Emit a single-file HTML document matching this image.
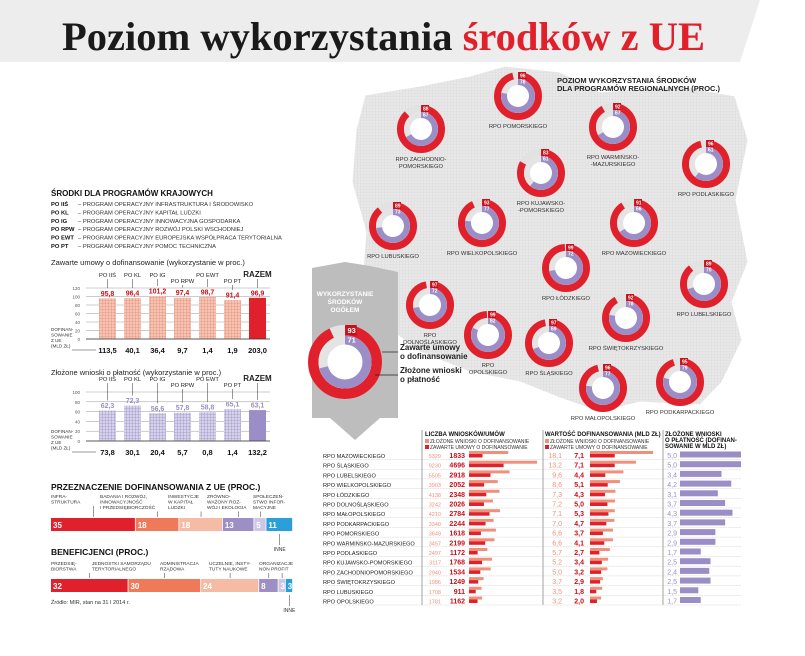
<!DOCTYPE html>
<html><head><meta charset="utf-8"><style>
html,body{margin:0;padding:0;background:#fff;}
svg{display:block;font-family:"Liberation Sans",sans-serif;}
</style></head><body>
<svg id="s" width="805" height="656" viewBox="0 0 805 656" xmlns="http://www.w3.org/2000/svg">
<defs>
<pattern id="pinkGrid" width="3" height="3" patternUnits="userSpaceOnUse"><rect width="3" height="3" fill="#f4c4b4"/><path d="M0 0H3M0 0V3" stroke="#e88a74" stroke-width="0.8"/></pattern>
<pattern id="blueGrid" width="3" height="3" patternUnits="userSpaceOnUse"><rect width="3" height="3" fill="#d6d2ea"/><path d="M0 0H3M0 0V3" stroke="#9d93c8" stroke-width="0.8"/></pattern>
<pattern id="mapGrid" width="3" height="3" patternUnits="userSpaceOnUse"><rect width="3" height="3" fill="#e8e8e8"/><path d="M0 0H3M0 0V3" stroke="#d6d6d6" stroke-width="0.6"/></pattern>
</defs>
<polygon points="0,0 760,0 740,62 0,62" fill="#ededed"/>
<text x="62" y="50" font-family="Liberation Serif,serif" font-weight="bold" font-size="40" textLength="643" lengthAdjust="spacingAndGlyphs"><tspan fill="#1a1a1a">Poziom wykorzystania </tspan><tspan fill="#e0202a">środków z UE</tspan></text>
<polygon points="365,95 420,86 470,76 505,66 560,72 600,92 680,86 735,96 748,140 736,200 748,262 732,302 742,340 722,382 700,405 640,402 600,412 560,398 520,382 470,372 420,352 380,322 362,282 366,232 352,182 356,130" fill="url(#mapGrid)" stroke="#fff" stroke-width="1"/>
<text x="557" y="83" font-size="7.5" font-weight="bold" fill="#222">POZIOM WYKORZYSTANIA ŚRODKÓW</text>
<text x="557" y="91" font-size="7.5" font-weight="bold" fill="#222">DLA PROGRAMÓW REGIONALNYCH (PROC.)</text>
<polygon points="312,268 345,262 370,266 398,272 398,418 380,418 355,440 330,418 312,418" fill="#bdbdbd"/>
<text x="345" y="296" font-size="6.5" font-weight="bold" fill="#fff" text-anchor="middle">WYKORZYSTANIE</text>
<text x="345" y="304" font-size="6.5" font-weight="bold" fill="#fff" text-anchor="middle">ŚRODKÓW</text>
<text x="345" y="312" font-size="6.5" font-weight="bold" fill="#fff" text-anchor="middle">OGÓŁEM</text>
<g id="donuts"></g>
<line x1="382" y1="352" x2="398" y2="352" stroke="#222" stroke-width="0.7"/>
<line x1="375" y1="375" x2="398" y2="375" stroke="#222" stroke-width="0.7"/>
<text x="400" y="350" font-size="8" font-weight="bold" fill="#222">Zawarte umowy</text>
<text x="400" y="359" font-size="8" font-weight="bold" fill="#222">o dofinansowanie</text>
<text x="400" y="373" font-size="8" font-weight="bold" fill="#222">Złożone wnioski</text>
<text x="400" y="382" font-size="8" font-weight="bold" fill="#222">o płatność</text>
<text x="51" y="196" font-size="8" font-weight="bold" fill="#111">ŚRODKI DLA PROGRAMÓW KRAJOWYCH</text>
<g id="legendList" font-size="5.8" fill="#333"></g>
<text x="51" y="265" font-size="7.5" fill="#222">Zawarte umowy o dofinansowanie (wykorzystanie w proc.)</text>
<text x="51" y="375" font-size="7.5" fill="#222">Złożone wnioski o płatność (wykorzystanie w proc.)</text>
<g id="chart1"></g><g id="chart2"></g>
<text x="51" y="490" font-size="8.5" font-weight="bold" fill="#111">PRZEZNACZENIE DOFINANSOWANIA Z UE (PROC.)</text>
<text x="51" y="555" font-size="8.5" font-weight="bold" fill="#111">BENEFICJENCI (PROC.)</text>
<g id="stack1"></g><g id="stack2"></g>
<text x="51" y="604" font-size="5.5" fill="#333">Źródło: MIR, stan na 31 I 2014 r.</text>
<g id="table"></g>
</svg>
<script>
var NS="http://www.w3.org/2000/svg";
function mk(p,tag,at,txt){var e=document.createElementNS(NS,tag);for(var k in at)e.setAttribute(k,at[k]);if(txt!==undefined)e.textContent=txt;p.appendChild(e);return e;}
var regionNames=["RPO POMORSKIEGO","RPO ZACHODNIO-|POMORSKIEGO","RPO WARMIŃSKO-|-MAZURSKIEGO","RPO PODLASKIEGO","RPO KUJAWSKO-|-POMORSKIEGO","RPO LUBUSKIEGO","RPO WIELKOPOLSKIEGO","RPO MAZOWIECKIEGO","RPO ŁÓDZKIEGO","RPO LUBELSKIEGO","RPO|DOLNOŚLĄSKIEGO","RPO|OPOLSKIEGO","RPO ŚLĄSKIEGO","RPO ŚWIĘTOKRZYSKIEGO","RPO MAŁOPOLSKIEGO","RPO PODKARPACKIEGO"];
var regionContracts=[96,88,92,96,83,89,93,91,99,89,97,99,97,92,96,95];
var regionPayments=[78,67,67,61,61,73,77,66,72,70,72,82,69,78,77,79];
var totalContracts=93, totalPayments=71;
var layoutXY=[[518,96],[421,129],[613,127],[706,164],[541,173],[393,226],[482,223],[634,223],[566,268],[704,284],[430,305],[488,335],[549,343],[626,318],[603,388],[680,382]];
function donut(g,cx,cy,R,c,p,lab,scale){
  var w1=7*scale,w2=6*scale,r1=R-w1/2,r2=R-w1-w2/2;
  var C1=2*Math.PI*r1,C2=2*Math.PI*r2;
  mk(g,"circle",{cx:cx,cy:cy,r:R-w1,fill:"#fff"});
  mk(g,"circle",{cx:cx,cy:cy,r:r1,fill:"none",stroke:"#e2e2e2","stroke-width":w1});
  var a=mk(g,"circle",{cx:cx,cy:cy,r:r1,fill:"none",stroke:"#e0202a","stroke-width":w1,"stroke-dasharray":(c/100*C1)+" "+C1,transform:"rotate(-90 "+cx+" "+cy+")"});
  
  
  mk(g,"circle",{cx:cx,cy:cy,r:r2,fill:"none",stroke:"#e4e4e4","stroke-width":w2});
  var b=mk(g,"circle",{cx:cx,cy:cy,r:r2,fill:"none",stroke:"#9b8ec7","stroke-width":w2,"stroke-dasharray":(p/100*C2)+" "+C2,transform:"rotate(-90 "+cx+" "+cy+")"});
  
  
  var fs=5*scale;
  mk(g,"rect",{x:cx+0.5,y:cy-R,width:fs*1.5,height:w1,fill:"#c8101a"});
  mk(g,"text",{x:cx+1+fs*0.75,y:cy-R+w1*0.75,"font-size":fs,fill:"#fff","text-anchor":"middle","font-weight":"bold"},c);
  mk(g,"text",{x:cx+1+fs*0.75,y:cy-R+w1+w2*0.75,"font-size":fs,fill:"#fff","text-anchor":"middle","font-weight":"bold"},p);
  if(lab){var ls=lab.split("|");for(var i=0;i<ls.length;i++)mk(g,"text",{x:cx,y:cy+R+8+i*7,"font-size":5.8,fill:"#333","text-anchor":"middle"},ls[i]);}
}
var dg=document.getElementById("donuts");
for(var i=0;i<regionNames.length;i++){
  var g=mk(dg,"g",{});
  
  
  donut(g,layoutXY[i][0],layoutXY[i][1],24,regionContracts[i],regionPayments[i],regionNames[i],1);
}
var tg=mk(dg,"g",{});


donut(tg,345,362,37,totalContracts,totalPayments,null,1.5);
var progAbbr=["PO IIŚ","PO KL","PO IG","PO RPW","PO EWT","PO PT"];
var progFull=["PROGRAM OPERACYJNY INFRASTRUKTURA I ŚRODOWISKO","PROGRAM OPERACYJNY KAPITAŁ LUDZKI","PROGRAM OPERACYJNY INNOWACYJNA GOSPODARKA","PROGRAM OPERACYJNY ROZWÓJ POLSKI WSCHODNIEJ","PROGRAM OPERACYJNY EUROPEJSKA WSPÓŁPRACA TERYTORIALNA","PROGRAM OPERACYJNY POMOC TECHNICZNA"];
var ll=document.getElementById("legendList");
for(var i=0;i<6;i++){var y=206+i*8.4;
  var t=mk(ll,"text",{x:51,y:y,"font-weight":"bold",fill:"#111"},progAbbr[i]);
  
  
  mk(ll,"text",{x:78,y:y},"– "+progFull[i]);}
var barCats=["PO IIŚ","PO KL","PO IG","PO RPW","PO EWT","PO PT","RAZEM"];
var contractPct=[95.8,96.4,101.2,97.4,98.7,91.4,96.9];
var paymentPct=[62.3,72.3,56.6,57.8,58.8,65.1,63.1];
var fundingBn=[113.5,40.1,36.4,9.7,1.4,1.9,203.0];
var paymentBn=[73.8,30.1,20.4,5.7,0.8,1.4,132.2];
var ticks1=[0,20,40,60,80,100,120], ticks2=[0,20,40,60,80,100];
function fmt(v){return v.toFixed(1).replace(".",",");}
function barChart(id,top,zeroY,maxV,ticks,vals,bn,pat,solid,valCol){
  var g=document.getElementById(id);
  var sc=function(v){return zeroY-(v/maxV)*(zeroY-top);};
  ticks.forEach(function(t){mk(g,"line",{x1:86,x2:270,y1:sc(t),y2:sc(t),stroke:"#999","stroke-width":0.5});
    mk(g,"text",{x:80,y:sc(t)+2,"font-size":4.5,fill:"#555","text-anchor":"end"},t);});
  for(var i=0;i<vals.length;i++){var x=99+i*25, cx=x+8.5;
    var r=mk(g,"rect",{x:x,y:sc(vals[i]),width:17,height:zeroY-sc(vals[i]),fill:i==6?solid:pat});
    
    
    mk(g,"text",{x:cx,y:sc(vals[i])-2.5,"font-size":7,"font-weight":"bold",fill:valCol,"text-anchor":"middle"},fmt(vals[i]));
    var low=(i==3||i==5), ly=top-(low?5:11);
    mk(g,"text",{x:cx,y:ly,"font-size":i==6?8:5.8,"font-weight":i==6?"bold":"normal",fill:"#222","text-anchor":"middle"},barCats[i]);
    mk(g,"line",{x1:cx,x2:cx,y1:ly+2,y2:sc(vals[i])-10,stroke:"#333","stroke-width":0.5});
    mk(g,"text",{x:cx,y:zeroY+14,"font-size":7.5,"font-weight":"bold",fill:"#111","text-anchor":"middle"},fmt(bn[i]));}
  mk(g,"line",{x1:86,x2:270,y1:zeroY,y2:zeroY,stroke:"#333","stroke-width":0.8});
  ["DOFINAN-","SOWANIE","Z UE","(MLD ZŁ)"].forEach(function(s,k){mk(g,"text",{x:51,y:zeroY-8+k*5.5,"font-size":4.6,fill:"#333"},s);});
  mk(g,"line",{x1:72,x2:96,y1:zeroY+11,y2:zeroY+11,stroke:"#333","stroke-width":0.5});
}
barChart("chart1",288,339,120,ticks1,contractPct,fundingBn,"url(#pinkGrid)","#e0202a","#c8101a");
barChart("chart2",392,441,100,ticks2,paymentPct,paymentBn,"url(#blueGrid)","#9b8ec7","#9b8ec7");
var allocLabels=["INFRA-|STRUKTURA","BADANIA I ROZWÓJ,|INNOWACYJNOŚĆ|I PRZEDSIĘBIORCZOŚĆ","INWESTYCJE|W KAPITAŁ|LUDZKI","ZRÓWNO-|WAŻONY ROZ-|WÓJ I EKOLOGIA","SPOŁECZEŃ-|STWO INFOR-|MACYJNE","INNE"];
var allocPct=[35,18,18,13,5,11];
var benefLabels=["PRZEDSIĘ-|BIORSTWA","JEDNOSTKI SAMORZĄDU|TERYTORIALNEGO","ADMINISTRACJA|RZĄDOWA","UCZELNIE, INSTY-|TUTY NAUKOWE","ORGANIZACJE|NON PROFIT","INNE"];
var benefPct=[32,30,24,8,3,3];
var stackCols=["#e0202a","#ef7a5a","#f6bba4","#9d8fc4","#cdc6e4","#2a9fd8"];
var allocLabelX=[51,100,168,207,253];
var benefLabelX=[51,92,160,209,259];
function stack(id,y,h,vals,labels,ly,lxs){
  var g=document.getElementById(id),x0=51,W=242,tot=vals.reduce(function(a,b){return a+b;},0),x=x0;
  for(var i=0;i<vals.length;i++){var w=vals[i]/tot*W;
    var r=mk(g,"rect",{x:x,y:y,width:w-0.8,height:h,fill:stackCols[i]});
    
    
    mk(g,"text",{x:x+2,y:y+h-3,"font-size":8,"font-weight":"bold",fill:"#fff"},vals[i]);
    var ls=labels[i].split("|");
    if(i==5){mk(g,"text",{x:x+w/2,y:y+h+20,"font-size":5,fill:"#333","text-anchor":"middle"},ls[0]);mk(g,"line",{x1:x+w/2,x2:x+w/2,y1:y+h+3,y2:y+h+14,stroke:"#333","stroke-width":0.5});}
    else{var lx=lxs[i];
      ls.forEach(function(s,k){mk(g,"text",{x:lx,y:ly+k*5.5,"font-size":4.8,fill:"#333"},s);});
      mk(g,"line",{x1:x+w/2,x2:x+w/2,y1:ly+ls.length*5.5-3,y2:y-1,stroke:"#333","stroke-width":0.5});}
    x+=w;}
}
stack("stack1",518,13,allocPct,allocLabels,498,allocLabelX);
stack("stack2",579,13,benefPct,benefLabels,565,benefLabelX);
var tableNames=["RPO MAZOWIECKIEGO","RPO ŚLĄSKIEGO","RPO LUBELSKIEGO","RPO WIELKOPOLSKIEGO","RPO ŁÓDZKIEGO","RPO DOLNOŚLĄSKIEGO","RPO MAŁOPOLSKIEGO","RPO PODKARPACKIEGO","RPO POMORSKIEGO","RPO WARMIŃSKO-MAZURSKIEGO","RPO PODLASKIEGO","RPO KUJAWSKO-POMORSKIEGO","RPO ZACHODNIOPOMORSKIEGO","RPO ŚWIĘTOKRZYSKIEGO","RPO LUBUSKIEGO","RPO OPOLSKIEGO"];
var appsSubmitted=[5329,9230,5505,3903,4138,3242,4210,3340,3649,3457,2497,3117,2940,1986,1708,1781];
var contractsCount=[1833,4696,2918,2052,2348,2026,2784,2244,1618,2199,1172,1768,1534,1249,911,1162];
var valueSubmitted=[18.1,13.2,9.6,8.6,7.3,7.2,7.1,7.0,6.6,6.6,5.7,5.2,5.0,3.7,3.5,3.2];
var valueContracts=[7.1,7.1,4.4,5.1,4.3,5.0,5.3,4.7,3.7,4.1,2.7,3.4,3.2,2.9,1.8,2.0];
var paymentsBn=[5.0,5.0,3.4,4.2,3.1,3.7,4.3,3.7,2.9,2.9,1.7,2.5,2.4,2.5,1.5,1.7];
var T=document.getElementById("table");
function cnt(v){return 469+v/9230*68;} function val(v){return 590+v/18.1*63;} function pay(v){return 680+v/5*61;}
mk(T,"text",{x:425,y:436,"font-size":6,"font-weight":"bold",fill:"#111"},"LICZBA WNIOSKÓW/UMÓW");
mk(T,"text",{x:545,y:436,"font-size":6,"font-weight":"bold",fill:"#111"},"WARTOŚĆ DOFINANSOWANIA (MLD ZŁ)");
mk(T,"text",{x:665,y:436,"font-size":6,"font-weight":"bold",fill:"#111"},"ZŁOŻONE WNIOSKI");
mk(T,"text",{x:665,y:442,"font-size":6,"font-weight":"bold",fill:"#111"},"O PŁATNOŚĆ (DOFINAN-");
mk(T,"text",{x:665,y:448,"font-size":6,"font-weight":"bold",fill:"#111"},"SOWANIE W MLD ZŁ)");
[425,545].forEach(function(x){mk(T,"rect",{x:x,y:439,width:4,height:4,fill:"#f0907a"});mk(T,"text",{x:x+5,y:443,"font-size":5,fill:"#333"},"ZŁOŻONE WNIOSKI O DOFINANSOWANIE");
 mk(T,"rect",{x:x,y:445,width:4,height:4,fill:"#e0202a"});mk(T,"text",{x:x+5,y:449,"font-size":5,fill:"#333"},"ZAWARTE UMOWY O DOFINANSOWANIE");});
[422,543,663].forEach(function(x){mk(T,"line",{x1:x,x2:x,y1:430,y2:605,stroke:"#666","stroke-width":0.6});});
for(var i=0;i<tableNames.length;i++){var y=458+i*9.7;
  var n=mk(T,"text",{x:323,y:y,"font-size":5.6,fill:"#222"},tableNames[i]);
  
  
  mk(T,"line",{x1:323,x2:741,y1:y+1.5,y2:y+1.5,stroke:"#aaa","stroke-width":0.4,"stroke-dasharray":"0.8 0.8"});
  mk(T,"text",{x:441,y:y,"font-size":5.5,fill:"#f0907a","text-anchor":"end"},appsSubmitted[i]);
  mk(T,"text",{x:465,y:y,"font-size":7,"font-weight":"bold",fill:"#c8101a","text-anchor":"end"},contractsCount[i]);
  var a=mk(T,"rect",{x:469,y:y-7,width:cnt(appsSubmitted[i])-469,height:3,fill:"#f0907a"});
  
  
  var b=mk(T,"rect",{x:469,y:y-4,width:cnt(contractsCount[i])-469,height:3.5,fill:"#e0202a"});
  
  
  mk(T,"text",{x:562,y:y,"font-size":7,fill:"#f0907a","text-anchor":"end"},fmt(valueSubmitted[i]));
  mk(T,"text",{x:584,y:y,"font-size":7,"font-weight":"bold",fill:"#c8101a","text-anchor":"end"},fmt(valueContracts[i]));
  var c=mk(T,"rect",{x:590,y:y-7,width:val(valueSubmitted[i])-590,height:3,fill:"#f0907a"});
  
  
  var d=mk(T,"rect",{x:590,y:y-4,width:val(valueContracts[i])-590,height:3.5,fill:"#e0202a"});
  
  
  mk(T,"text",{x:677,y:y,"font-size":7,fill:"#9b8ec7","text-anchor":"end"},fmt(paymentsBn[i]));
  var e=mk(T,"rect",{x:680,y:y-6.5,width:pay(paymentsBn[i])-680,height:6,fill:"#9b8ec7"});
  
  
}
</script>
</body></html>
